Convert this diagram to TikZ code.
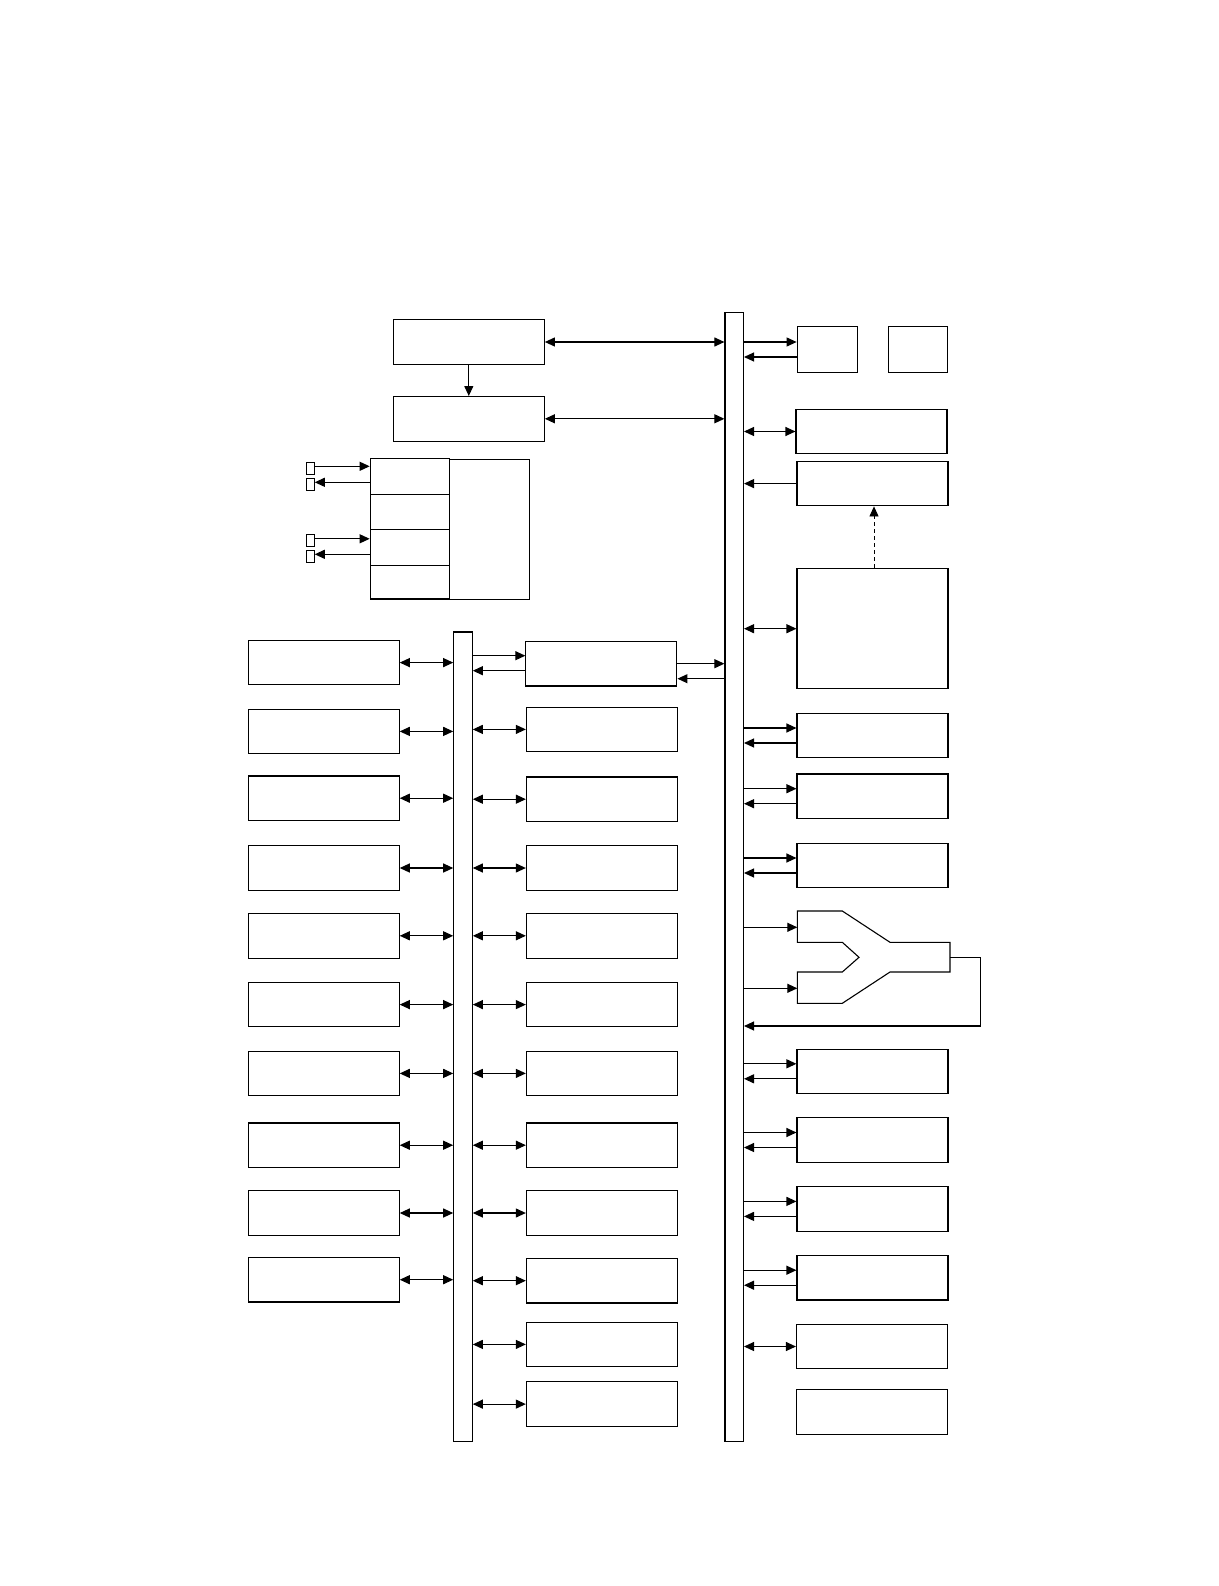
\documentclass[tikz,border=0pt]{standalone}
\usetikzlibrary{arrows.meta}
\tikzset{
  blk/.style={draw, minimum width=151pt, minimum height=44.5pt, inner sep=0pt},
  bus/.style={draw, minimum width=18.5pt, inner sep=0pt},
  cell/.style={draw, minimum width=79pt, inner sep=0pt},
  port/.style={draw, line width=0.9pt, minimum width=8pt, minimum height=11.5pt, inner sep=0pt},
}

\begin{document}
\begin{tikzpicture}[x=1pt, y=-1pt, line width=1.1pt, >={Triangle[length=10pt,width=9pt]}]
  \useasboundingbox (0,0) rectangle (1218,1586);
  % buses
  \node[bus, minimum height=1129pt] (mbus) at (734.2,877.1) {};
  \node[bus, minimum height=809.6pt] (lbus) at (463,1036.8) {};
  % top boxes
  \node[blk] (t1) at (468.8,342) {};
  \node[blk] (t2) at (468.8,418.8) {};
  \draw[->] (t1) -- (t2);
  \draw[<->] (t1.east) -- (mbus.west |- t1.east);
  \draw[<->] (t2.east) -- (mbus.west |- t2.east);
  % stacked block and its ports
  \foreach \i/\y/\h in {1/476.3/36pt, 2/511.8/35pt, 3/547.3/36pt, 4/582.1/33.7pt}
    \node[cell, minimum height=\h] (c\i) at (409.7,\y) {};
  \node[draw, minimum width=80pt, minimum height=139.7pt, inner sep=0pt] (ctl) at (489.3,529.2) {};
  \foreach \i/\y in {1/468.3, 2/484.3, 3/540.3, 4/556.3}
    \node[port] (p\i) at (310.3,\y) {};
  \draw[->] ([yshift=2pt]p1.east) -- ([yshift=2pt]c1.west |- p1.east);
  \draw[<-] ([yshift=2pt]p2.east) -- ([yshift=2pt]c1.west |- p2.east);
  \draw[->] ([yshift=1.5pt]p3.east) -- ([yshift=1.5pt]c3.west |- p3.east);
  \draw[<-] ([yshift=2pt]p4.east) -- ([yshift=2pt]c3.west |- p4.east);
  % left column
  \foreach \i/\y in {1/662.6, 2/731.4, 3/798.2, 4/868, 5/935.8, 6/1004.6, 7/1073.4, 8/1145.2, 9/1213, 10/1279.7}{
    \node[blk] (l\i) at (323.7,\y) {};
    \draw[<->] (l\i.east) -- (lbus.west |- l\i.east);
  }
  % middle column
  \foreach \i/\y in {2/729.4, 3/799.2, 4/868, 5/935.8, 6/1004.6, 7/1073.4, 8/1145.2, 9/1213, 10/1280.7, 11/1344.4, 12/1404.1}{
    \node[blk] (m\i) at (601.9,\y) {};
    \draw[<->] (lbus.east |- m\i.west) -- (m\i.west);
  }
  \node[blk] (m1) at (601.4,663.7) {};
  \draw[->] ([yshift=8pt]lbus.east |- m1.west) -- ([yshift=8pt]m1.west);
  \draw[->] ([yshift=-7pt]m1.west) -- ([yshift=-7pt]lbus.east |- m1.west);
  \draw[->] (m1.east) -- (mbus.west |- m1.east);
  \draw[->] ([yshift=-15pt]mbus.west |- m1.east) -- ([yshift=-15pt]m1.east);
  % right column
  \node[blk, minimum width=60.7pt, minimum height=45.6pt] (s1) at (827.5,349.5) {};
  \node[blk, minimum width=59.7pt, minimum height=45.6pt] (s2) at (918,349.5) {};
  \draw[->] ([yshift=7.5pt]mbus.east |- s1.west) -- ([yshift=7.5pt]s1.west);
  \draw[->] ([yshift=-7.5pt]s1.west) -- ([yshift=-7.5pt]mbus.east |- s1.west);
  \node[blk] (r1) at (871.5,431.5) {};
  \draw[<->] (mbus.east |- r1.west) -- (r1.west);
  \node[blk] (r2) at (872.5,483.6) {};
  \draw[->] (r2.west) -- (mbus.east |- r2.west);
  \node[blk, minimum height=120.4pt] (big) at (872.5,628.7) {};
  \draw[<->] (mbus.east |- big.west) -- (big.west);
  \draw[->, line width=0.8pt, dash pattern=on 4pt off 3pt] ([xshift=1.5pt]big.north) -- ([xshift=1.5pt]r2.south);
  \foreach \i/\y in {3/735.5, 4/796.2, 5/865.5, 6/1071.3, 7/1140, 8/1208.9, 9/1277.7}{
    \node[blk] (r\i) at (872.5,\y) {};
    \draw[->] ([yshift=7.5pt]mbus.east |- r\i.west) -- ([yshift=7.5pt]r\i.west);
    \draw[->] ([yshift=-7.5pt]r\i.west) -- ([yshift=-7.5pt]mbus.east |- r\i.west);
  }
  \node[blk] (r10) at (872,1346.5) {};
  \draw[<->] (mbus.east |- r10.west) -- (r10.west);
  \node[blk] (r11) at (872,1411.8) {};
  % merging block
  \draw (797.3,911) -- (842.3,911) -- (890,942.3) -- (950,942.3) -- (950,972) -- (890,972)
    -- (842.3,1003.3) -- (797.3,1003.3) -- (797.3,972) -- (842.3,972) -- (859,957.3)
    -- (842.3,942.3) -- (797.3,942.3) -- cycle;
  \coordinate (yin1) at (797.3,927.3);
  \coordinate (yin2) at (797.3,988.3);
  \coordinate (yout) at (950,957.3);
  \coordinate (yturn) at (980.7,1026);
  \draw[->] (mbus.east |- yin1) -- (yin1);
  \draw[->] (mbus.east |- yin2) -- (yin2);
  \draw[->] (yout) -| (yturn) -- (mbus.east |- yturn);
\end{tikzpicture}
\end{document}
